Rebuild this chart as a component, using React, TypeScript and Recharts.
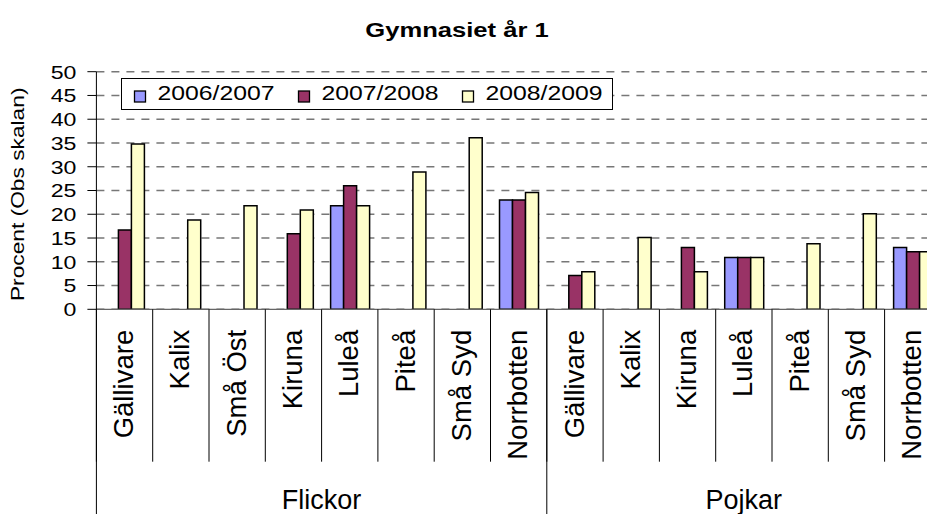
import React from 'react';
import { BarChart, Bar, XAxis, YAxis, CartesianGrid, Legend } from 'recharts';

const categories = ['Gällivare', 'Kalix', 'Små Öst', 'Kiruna', 'Luleå', 'Piteå', 'Små Syd', 'Norrbotten', 'Gällivare', 'Kalix', 'Kiruna', 'Luleå', 'Piteå', 'Små Syd', 'Norrbotten'];
const groups = ['Flickor', 'Flickor', 'Flickor', 'Flickor', 'Flickor', 'Flickor', 'Flickor', 'Flickor', 'Pojkar', 'Pojkar', 'Pojkar', 'Pojkar', 'Pojkar', 'Pojkar', 'Pojkar'];
const s0607: (number | null)[] = [null, null, null, null, 21.8, null, null, 23.0, null, null, null, 10.9, null, null, 13.0];
const s0708: (number | null)[] = [16.7, null, null, 15.9, 26.0, null, null, 23.0, 7.1, null, 13.0, 10.9, null, null, 12.1];
const s0809: (number | null)[] = [34.8, 18.8, 21.8, 20.9, 21.8, 28.9, 36.1, 24.6, 7.9, 15.1, 7.9, 10.9, 13.8, 20.1, 12.1];
const seriesNames = ['2006/2007', '2007/2008', '2008/2009'];
const seriesColors = ['#9999FF', '#993366', '#FFFFCC'];
const yTicks = [0, 5, 10, 15, 20, 25, 30, 35, 40, 45, 50];
const title = 'Gymnasiet år 1';
const yTitle = 'Procent (Obs skalan)';

const data = categories.map((c, i) => ({
  id: `${groups[i]}-${c}-${i}`,
  s0: s0607[i],
  s1: s0708[i],
  s2: s0809[i],
}));

const FONT = '"Liberation Sans", Arial, sans-serif';

const XTick = (props: any) => {
  const { x, y, payload } = props;
  const idx = payload.index;
  const half = payload.offset || 28.15;
  const left = x - half;
  const g = groups[idx];
  const isGroupStart = idx === 0 || groups[idx - 1] !== g;
  let groupLabel = null;
  if (isGroupStart) {
    const count = groups.filter((v) => v === g).length;
    const gc = left + count * half;
    groupLabel = (
      <g>
        <line x1={left} y1={y} x2={left} y2={y + 210} stroke="#000" strokeWidth={1} />
        <text x={gc} y={y + 200} textAnchor="middle" fontSize={27} fontFamily={FONT} fill="#000">{g}</text>
      </g>
    );
  }
  return (
    <g>
      <line x1={left} y1={y} x2={left} y2={y + 152.4} stroke="#000" strokeWidth={1} />
      <text
        x={x + 8.6}
        y={y + 20.5}
        transform={`rotate(-90, ${x + 8.6}, ${y + 20.5})`}
        textAnchor="end"
        fontSize={27.5}
        fontFamily={FONT}
        fill="#000"
      >
        {categories[idx]}
      </text>
      {groupLabel}
    </g>
  );
};

const YTick = (props: any) => {
  const { x, y, payload } = props;
  const s = String(payload.value);
  return (
    <text
      x={0}
      y={0}
      transform={`translate(${x}, ${y + 6.8}) scale(1.25, 1)`}
      textAnchor="end"
      fontSize={18.5}
      fontFamily={FONT}
      fill="#000"
    >
      {s}
    </text>
  );
};

const YLabel = () => (
  <text
    x={0}
    y={0}
    transform="translate(23.5, 194.3) rotate(-90) scale(1.3, 1)"
    textAnchor="middle"
    fontSize={17.5}
    fontFamily={FONT}
    fill="#000"
  >
    {yTitle}
  </text>
);

const legendItemX = [13.5, 177.5, 341.5];

const LegendContent = () => (
  <svg width={492} height={32} style={{ display: 'block' }}>
    <rect x={0.5} y={0.5} width={491} height={31} fill="#fff" stroke="#000" strokeWidth={1} />
    {seriesNames.map((n, i) => (
      <g key={n}>
        <rect x={legendItemX[i]} y={13} width={11} height={11} fill={seriesColors[i]} stroke="#000" strokeWidth={1.3} />
        <text
          x={0}
          y={0}
          transform={`translate(${legendItemX[i] + 23}, 22.3) scale(1.18, 1)`}
          fontSize={21}
          fontFamily={FONT}
          fill="#000"
        >
          {n}
        </text>
      </g>
    ))}
  </svg>
);

export default function App() {
  return (
    <div style={{ position: 'absolute', left: 0, top: 0, width: 927, height: 514, overflow: 'hidden', background: '#fff' }}>
      <svg width={927} height={50} style={{ position: 'absolute', left: 0, top: 0 }}>
        <text
          x={0}
          y={0}
          transform="translate(457, 37.3) scale(1.28, 1)"
          textAnchor="middle"
          fontSize={20}
          fontWeight="bold"
          fontFamily={FONT}
          fill="#000"
        >
          {title}
        </text>
      </svg>
      <div style={{ position: 'absolute', left: 0, top: 0 }}>
        <BarChart
          width={960}
          height={514}
          data={data}
          margin={{ top: 71.7, right: 19.1, left: 0, bottom: 0 }}
          barCategoryGap="16%"
          barGap={0}
        >
          <CartesianGrid horizontal vertical={false} stroke="#777" strokeDasharray="8 7" strokeWidth={1.4} />
          <XAxis
            dataKey="id"
            height={204.7}
            tickLine={false}
            tickSize={0}
            tickMargin={0}
            axisLine={{ stroke: '#666', strokeWidth: 1.3 }}
            tick={<XTick />}
            interval={0}
          />
          <YAxis
            width={96.4}
            domain={[0, 50]}
            ticks={yTicks}
            interval={0}
            tickSize={9}
            tickMargin={11}
            axisLine={{ stroke: '#000', strokeWidth: 1 }}
            tickLine={{ stroke: '#000', strokeWidth: 1 }}
            tick={<YTick />}
            label={{ content: () => <YLabel /> }}
          />
          <Legend
            layout="horizontal"
            verticalAlign="middle"
            align="center"
            content={() => <LegendContent />}
            wrapperStyle={{ position: 'absolute', left: 120.7, top: 78, width: 492, height: 32 }}
          />
          <Bar dataKey="s0" name={seriesNames[0]} fill={seriesColors[0]} stroke="#000" strokeWidth={1.5} isAnimationActive={false} />
          <Bar dataKey="s1" name={seriesNames[1]} fill={seriesColors[1]} stroke="#000" strokeWidth={1.5} isAnimationActive={false} />
          <Bar dataKey="s2" name={seriesNames[2]} fill={seriesColors[2]} stroke="#000" strokeWidth={1.5} isAnimationActive={false} />
        </BarChart>
      </div>
    </div>
  );
}
